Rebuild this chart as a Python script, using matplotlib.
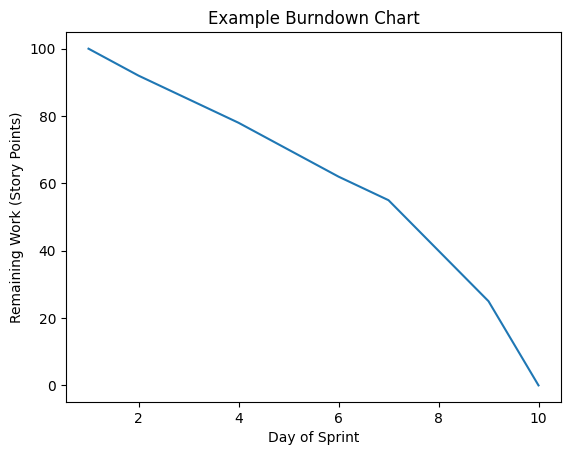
import matplotlib
matplotlib.use("Agg")
import matplotlib.pyplot as plt

days = [1, 2, 3, 4, 5, 6, 7, 8, 9, 10]
remaining = [100, 92, 85, 78, 70, 62, 55, 40, 25, 0]

fig, ax = plt.subplots(figsize=(5.71, 4.55), dpi=100)
fig.subplots_adjust(left=0.1156, right=0.9825, top=0.930, bottom=0.116)

ax.plot(days, remaining)
ax.set_title("Example Burndown Chart")
ax.set_xlabel("Day of Sprint")
ax.set_ylabel("Remaining Work (Story Points)")

fig.savefig("out.png")
